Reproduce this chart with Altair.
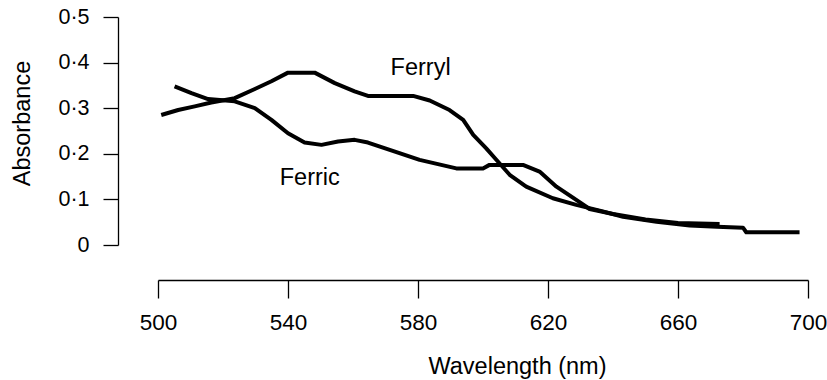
import altair as alt
import pandas as pd

# Ferryl spectrum
ferryl_nm = [501, 506.2, 511.3, 516.4, 523.6, 529.8, 534.9, 540, 548.2, 554.4, 560.5, 564.6,
             578.5, 583.6, 589.7, 593.9, 597, 601, 604.1, 608.2, 613.3, 621.5, 628.7, 635.9,
             643.1, 653.4, 663.6, 672, 680, 681, 697.4]
ferryl_abs = [0.285, 0.296, 0.304, 0.3125, 0.322, 0.342, 0.359, 0.378, 0.378, 0.355, 0.337, 0.327,
              0.327, 0.317, 0.296, 0.2745, 0.2415, 0.212, 0.187, 0.154, 0.128, 0.1025, 0.088, 0.0755,
              0.062, 0.051, 0.043, 0.040, 0.038, 0.028, 0.028]

# Ferric spectrum
ferric_nm = [505.1, 510.3, 515.4, 523.6, 529.8, 534.9, 540, 545.1, 550.3, 555.4, 560.5, 564.6,
             571.3, 580.5, 591.8, 600, 602, 612.3, 617.4, 622.6, 628.7, 632.8, 640, 650, 660, 672.8]
ferric_abs = [0.348, 0.333, 0.32, 0.315, 0.300, 0.2745, 0.245, 0.2247, 0.2196, 0.227, 0.2306, 0.2247,
              0.2086, 0.1867, 0.168, 0.168, 0.1757, 0.1757, 0.161, 0.128, 0.099, 0.079, 0.068, 0.056,
              0.048, 0.046]

# Curve labels
label_text = ["Ferryl", "Ferric"]
label_nm = [580.8, 546.7]
label_abs = [0.373, 0.132]

# Axis ticks
x_ticks = [500, 540, 580, 620, 660, 700]
y_ticks = [0, 0.1, 0.2, 0.3, 0.4, 0.5]
y_tick_labels = ["0", "0·1", "0·2", "0·3", "0·4", "0·5"]

FONT = "Liberation Sans"

lines_df = pd.concat([
    pd.DataFrame({"nm": ferryl_nm, "abs": ferryl_abs, "series": "Ferryl"}),
    pd.DataFrame({"nm": ferric_nm, "abs": ferric_abs, "series": "Ferric"}),
])
labels_df = pd.DataFrame({"nm": label_nm, "abs": label_abs, "text": label_text})

label_expr = " : ".join(
    f"abs(datum.value - {v}) < 1e-6 ? '{l}'" for v, l in zip(y_ticks, y_tick_labels)
) + " : datum.label"

x_scale = alt.Scale(domain=[500, 700], nice=False, zero=False)
y_scale = alt.Scale(domain=[0, 0.5], nice=False)

x_axis = alt.Axis(
    values=x_ticks, offset=35, tickSize=18, labelPadding=13, labelFontSize=22.5,
    labelFont=FONT, labelColor="black", tickColor="black", domainColor="black",
    tickWidth=1.3, domainWidth=1.3, grid=False, title="Wavelength (nm)",
    titleFont=FONT, titleFontSize=23.5, titleFontWeight="normal", titleColor="black",
    titleX=359, titleY=93, titleBaseline="alphabetic", titleAlign="center",
    labelFlush=False,
)
y_axis = alt.Axis(
    values=y_ticks, offset=40, tickSize=15, labelPadding=14, labelFontSize=21.5,
    labelFont=FONT, labelColor="black", tickColor="black", domainColor="black",
    tickWidth=1.3, domainWidth=1.3, grid=False, labelExpr=label_expr,
    title="Absorbance", titleFont=FONT, titleFontSize=23.5, titleFontWeight="normal",
    titleColor="black", titleX=-96, titleY=106, titleBaseline="middle",
    titleAlign="center", labelFlush=False,
)

lines = alt.Chart(lines_df).mark_line(
    color="black", strokeWidth=4, strokeJoin="round", interpolate="linear"
).encode(
    x=alt.X("nm:Q", scale=x_scale, axis=x_axis),
    y=alt.Y("abs:Q", scale=y_scale, axis=y_axis),
    detail="series:N",
)

labels = alt.Chart(labels_df).mark_text(
    font=FONT, fontSize=23.5, color="black", align="center", baseline="alphabetic"
).encode(
    x=alt.X("nm:Q", scale=x_scale),
    y=alt.Y("abs:Q", scale=y_scale),
    text="text:N",
)

chart = alt.layer(lines, labels).properties(
    width=650, height=228,
    autosize=alt.AutoSizeParams(type="none"),
    padding={"left": 158, "top": 17, "right": 19, "bottom": 135},
    background="white",
).configure_view(stroke=None)

chart.save("out.html", embed_options={"renderer": "svg", "actions": False})
